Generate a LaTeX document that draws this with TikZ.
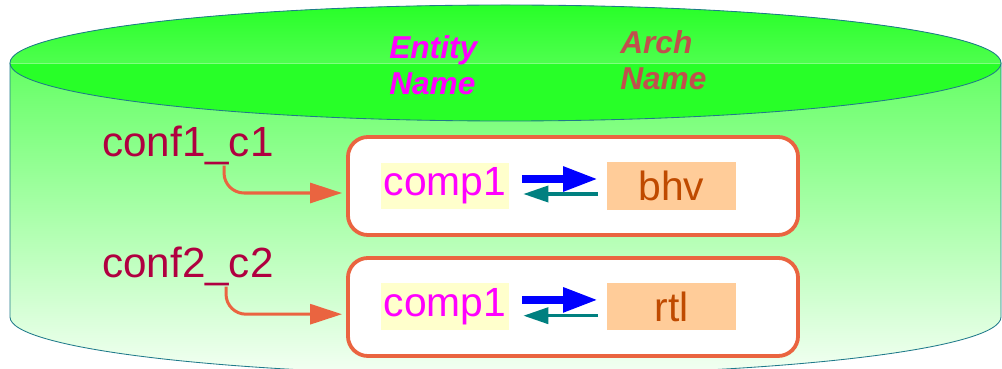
\documentclass[tikz,border=0pt]{standalone}
\usepackage{fontspec}
\setmainfont{Liberation Sans}
\usetikzlibrary{arrows.meta}
\definecolor{rimteal}{RGB}{31,122,138}
\definecolor{lidgreen}{RGB}{40,255,40}
\definecolor{lidlight}{RGB}{78,255,78}
\definecolor{bodytop}{RGB}{100,255,100}
\definecolor{bodybot}{RGB}{244,255,244}
\definecolor{frameorange}{RGB}{234,100,64}
\definecolor{entyellow}{RGB}{255,255,204}
\definecolor{entmagenta}{RGB}{255,0,255}
\definecolor{archpeach}{RGB}{255,204,153}
\definecolor{archtext}{RGB}{191,74,0}
\definecolor{confred}{RGB}{176,0,64}
\definecolor{headred}{RGB}{192,80,77}
\definecolor{backteal}{RGB}{0,128,128}
\def\bigtext{\fontsize{29}{34}\selectfont}
\def\conftext{\fontsize{30}{35}\selectfont}
\def\headtext{\fontsize{22.5}{25.5}\selectfont\bfseries\itshape}

\tikzset{
	frame/.style={draw=frameorange, line width=2.7pt, rounded corners=0.5cm, fill=white, minimum width=11.25cm, minimum height=2.45cm},
	ent/.style={fill=entyellow, text=entmagenta, inner sep=0pt, minimum width=3.2cm, minimum height=1.15cm, font=\bigtext},
	arch/.style={fill=archpeach, text=archtext, inner sep=0pt, minimum width=3.2cm, minimum height=1.175cm, font=\bigtext},
	conf/.style={text=confred, inner sep=0pt, anchor=base west, font=\conftext},
	head/.style={inner sep=0pt, anchor=north west, align=left, font=\headtext},
	bind/.style={draw=frameorange, line width=0.075cm, rounded corners=0.5cm, shorten >=0.1cm, -{Triangle[length=0.8cm,width=0.5cm]}},
	fwd/.style={draw=blue, line width=0.2cm, shorten <=0.325cm, shorten >=0.225cm, -{Triangle[length=0.875cm,width=0.575cm]}},
	back/.style={draw=backteal, line width=0.0875cm, shorten <=0.225cm, shorten >=0.35cm, -{Triangle[length=0.625cm,width=0.4cm]}},
}

\begin{document}
\begin{tikzpicture}[x=0.025cm, y=0.025cm]
		%%%%% START %%%%%
		\useasboundingbox (0,0) rectangle (1002,369);
		
		\begin{scope}
			\clip (0,0) rectangle (1002,369);
			\shade[top color=bodytop, bottom color=bodybot] (10,306) -- (10,52) arc (180:360:495.5 and 58) -- (1001,306) -- cycle;
			\draw[rimteal, line width=0.6pt] (10,306) -- (10,52) arc (180:360:495.5 and 58) -- (1001,306);
		\end{scope}
		
		\fill[lidgreen] (505.5,306) ellipse [x radius=495.5, y radius=58];
		\shade[top color=lidgreen, bottom color=lidlight] (10,306) arc (180:0:495.5 and 58) -- cycle;
		\draw[green!50!white, line width=0.5pt] (10,306) -- (1001,306);
		\draw[rimteal, line width=0.6pt] (505.5,306) ellipse [x radius=495.5, y radius=58];
		
		\node[head, text=entmagenta] (entHead) at (389,334) {Entity\\Name};
		\node[head, text=headred] (archHead) at (620,339) {Arch\\Name};
		
		\node[frame] (cfgA) at (573,183) {};
		\node[frame] (cfgB) at (573,62) {};
		
		\node[ent] (entA) at (445,183) {comp1};
		\node[arch] (archA) at (671.5,183) {bhv};
		\node[ent] (entB) at (445,62.5) {comp1};
		\node[arch] (archB) at (671.5,62.5) {rtl};
		
		\draw[fwd] ([yshift=0.175cm]entA.east) -- ([yshift=0.175cm]archA.west);
		\draw[back] ([yshift=-0.2cm]archA.west) -- ([yshift=-0.2cm]entA.east);
		\draw[fwd] ([yshift=0.165cm]entB.east) -- ([yshift=0.165cm]archB.west);
		\draw[back] ([yshift=-0.23cm]archB.west) -- ([yshift=-0.23cm]entB.east);
		
		\node[conf] (confA) at (102,212) {conf1\_c1};
		\node[conf] (confB) at (102,91) {conf2\_c2};
		
		\draw[bind] ([xshift=3.05cm]confA.south west) |- ([yshift=-0.175cm]cfgA.west);
		\draw[bind] ([xshift=3.1cm]confB.south west) |- ([yshift=-0.18cm]cfgB.west);
		
		%%%%% END %%%%%
	\end{tikzpicture}
\end{document}
